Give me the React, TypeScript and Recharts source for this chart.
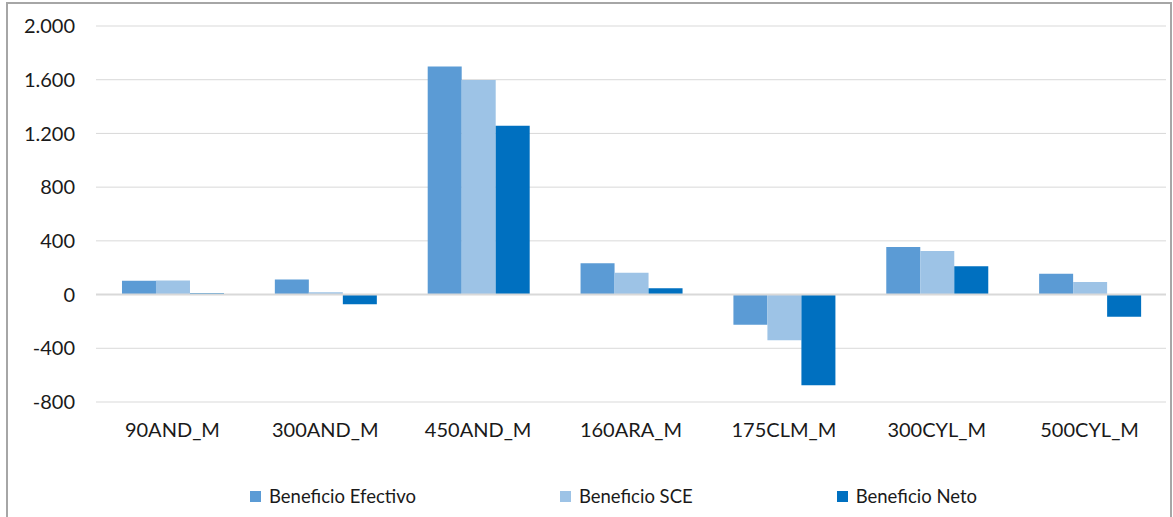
import {
  BarChart,
  Bar,
  XAxis,
  YAxis,
  CartesianGrid,
  Legend,
  ReferenceLine,
} from "recharts";

const categories = [
  "90AND_M",
  "300AND_M",
  "450AND_M",
  "160ARA_M",
  "175CLM_M",
  "300CYL_M",
  "500CYL_M",
];
const beneficioEfectivo = [103, 113, 1698, 233, -225, 354, 155];
const beneficioSCE = [105, 18, 1597, 163, -340, 325, 93];
const beneficioNeto = [10, -73, 1257, 48, -675, 210, -165];
const yTicks = [-800, -400, 0, 400, 800, 1200, 1600, 2000];

const seriesInfo = [
  { key: "efectivo", name: "Beneficio Efectivo", color: "#5B9BD5" },
  { key: "sce", name: "Beneficio SCE", color: "#9DC3E6" },
  { key: "neto", name: "Beneficio Neto", color: "#0070C0" },
];

const data = categories.map((cat, i) => ({
  cat,
  efectivo: beneficioEfectivo[i],
  sce: beneficioSCE[i],
  neto: beneficioNeto[i],
}));

const FONT = "Lato, 'Open Sans', sans-serif";

function formatThousands(v: number) {
  const s = Math.abs(v).toString().replace(/\B(?=(\d{3})+(?!\d))/g, ".");
  return v < 0 ? `-${s}` : s;
}

function LegendContent() {
  return (
    <div
      style={{
        display: "flex",
        paddingLeft: 250,
        gap: 144,
        fontFamily: FONT,
        fontSize: 18.5,
        color: "#1a1a1a",
        lineHeight: "22px",
      }}
    >
      {seriesInfo.map((s) => (
        <div key={s.key} style={{ display: "flex", alignItems: "center" }}>
          <span
            style={{
              width: 11,
              height: 11,
              background: s.color,
              marginRight: 8,
              display: "inline-block",
            }}
          />
          {s.name}
        </div>
      ))}
    </div>
  );
}

export default function App() {
  return (
    <div
      style={{
        position: "absolute",
        left: 0,
        top: 0,
        width: 1173,
        height: 517,
        background: "#fff",
        overflow: "hidden",
      }}
    >
      <div
        style={{
          position: "absolute",
          left: 6,
          top: 2,
          width: 1162,
          height: 530,
          border: "2px solid #a6a6a6",
        }}
      />
      <BarChart
        width={1173}
        height={517}
        data={data}
        margin={{ top: 26, right: 7, left: 0, bottom: 10 }}
        barCategoryGap="17%"
        barGap={0}
      >
        <CartesianGrid vertical={false} stroke="#d9d9d9" />
        <XAxis
          dataKey="cat"
          axisLine={false}
          tickLine={false}
          tickSize={0}
          tickMargin={21}
          height={83}
          tick={{ fill: "#1a1a1a", fontSize: 20, fontFamily: FONT }}
        />
        <YAxis
          domain={[-800, 2000]}
          ticks={yTicks}
          axisLine={false}
          tickLine={false}
          tickSize={0}
          tickMargin={21}
          width={96}
          tickFormatter={formatThousands}
          tick={{ fill: "#1a1a1a", fontSize: 20, fontFamily: FONT }}
        />
        <ReferenceLine y={0} stroke="#d9d9d9" strokeWidth={2} />
        {seriesInfo.map((s) => (
          <Bar
            key={s.key}
            dataKey={s.key}
            name={s.name}
            fill={s.color}
            isAnimationActive={false}
          />
        ))}
        <Legend verticalAlign="bottom" content={<LegendContent />} />
      </BarChart>
    </div>
  );
}
